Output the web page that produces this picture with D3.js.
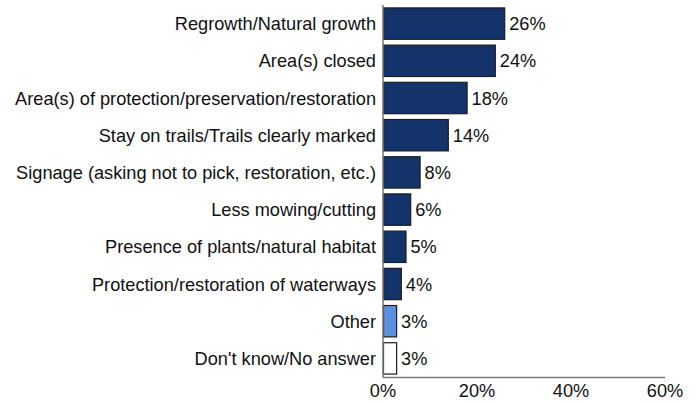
<!DOCTYPE html>
<html><head><meta charset="utf-8">
<script src="https://cdn.jsdelivr.net/npm/d3@7"></script>
<style>body{margin:0;background:#fff}svg{display:block;font-family:"Liberation Sans",Arial,sans-serif}</style>
</head><body>
<svg id="c" width="695" height="402"></svg>
<script>
const categories = ["Regrowth/Natural growth","Area(s) closed","Area(s) of protection/preservation/restoration","Stay on trails/Trails clearly marked","Signage (asking not to pick, restoration, etc.)","Less mowing/cutting","Presence of plants/natural habitat","Protection/restoration of waterways","Other","Don't know/No answer"];
const values = [26,24,18,14,8,6,5,4,3,3];
const groups = ["main","main","main","main","main","main","main","main","other","dk"];
const tickValues = [0,20,40,60];
const colors = {main:"#15336b", other:"#5b8fe0", dk:"#ffffff"};

const FS = 18.2;
const svg = d3.select("#c");
const x = d3.scaleLinear().domain([0,60]).range([383,665]);
const y = d3.scaleBand().domain(categories).range([5,377]).paddingInner(0.13).paddingOuter(0.065);

svg.selectAll("rect.bar").data(categories).join("rect")
  .attr("class","bar")
  .attr("x", x(0)+0.5)
  .attr("y", d=>y(d)+0.5)
  .attr("width", (d,i)=>x(values[i])-x(0)-1)
  .attr("height", y.bandwidth()-1)
  .attr("fill",(d,i)=>colors[groups[i]])
  .attr("stroke","#1c1c1c").attr("stroke-width",1.2);

svg.selectAll("text.val").data(categories).join("text")
  .attr("class","val")
  .attr("x",(d,i)=>x(values[i])+4)
  .attr("y",d=>y(d)+y.bandwidth()/2)
  .attr("dy","0.36em")
  .attr("font-size",FS).attr("fill","#111")
  .text((d,i)=>values[i]+"%");

svg.selectAll("text.cat").data(categories).join("text")
  .attr("class","cat")
  .attr("x",376)
  .attr("y",d=>y(d)+y.bandwidth()/2)
  .attr("dy","0.36em")
  .attr("text-anchor","end")
  .attr("font-size",FS).attr("fill","#111")
  .text(d=>d);

// axes
svg.append("line").attr("x1",x(0)).attr("x2",x(0)).attr("y1",5).attr("y2",377.5)
  .attr("stroke","#777").attr("stroke-width",1.5);
svg.append("line").attr("x1",x(0)).attr("x2",x(60)).attr("y1",377.5).attr("y2",377.5)
  .attr("stroke","#777").attr("stroke-width",1.5);

svg.selectAll("text.tick").data(tickValues).join("text")
  .attr("class","tick")
  .attr("x",d=>x(d)).attr("y",397)
  .attr("text-anchor","middle")
  .attr("font-size",FS).attr("fill","#111")
  .text(d=>d+"%");
</script>
</body></html>
